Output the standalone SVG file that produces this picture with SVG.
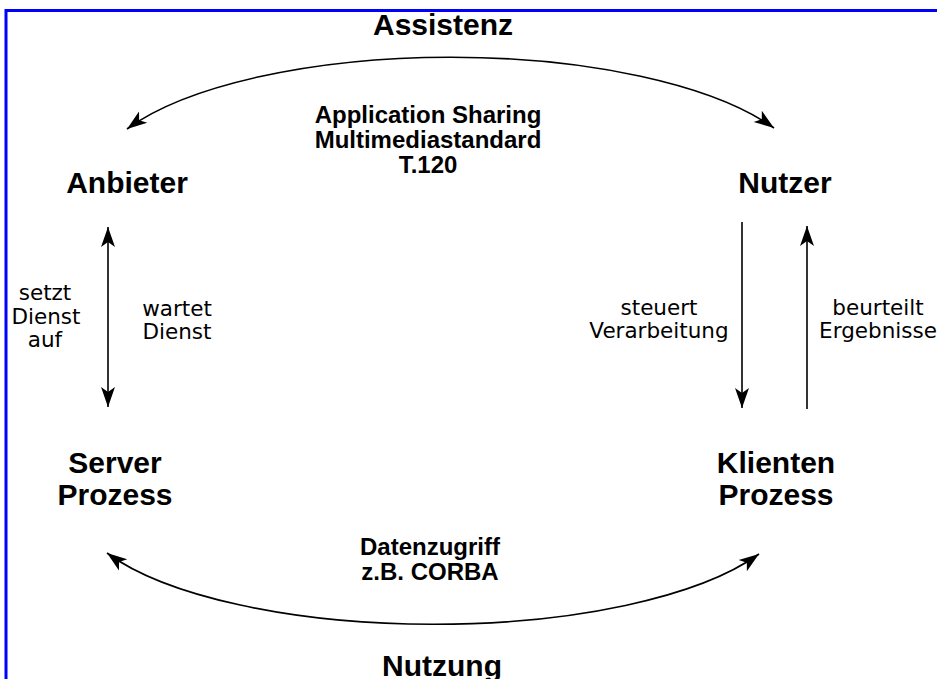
<svg xmlns="http://www.w3.org/2000/svg" width="937" height="679" viewBox="0 0 937 679">
  <style>
    text { font-family: "Liberation Sans", Arial, sans-serif; fill: #000; text-anchor: middle; }
    .node { font-size: 30px; font-weight: bold; }
    .mid { font-size: 24px; font-weight: bold; }
    .small { font-family: "DejaVu Sans", "Liberation Sans", sans-serif; font-size: 21.5px; font-weight: normal; }
    .conn { fill: none; stroke: #000; stroke-width: 1.6; }
    .frame { fill: none; stroke: #0000ff; stroke-width: 3; }
  </style>
  <defs>
    <marker id="ah" markerUnits="userSpaceOnUse" viewBox="0 0 24 18" markerWidth="24" markerHeight="18" refX="20" refY="9" orient="auto-start-reverse">
      <path d="M20,9 L0,2 L5,9 L0,16 Z" fill="#000"/>
    </marker>
  </defs>
  <rect width="937" height="679" fill="#fff"/>
  <path class="frame" d="M6,679 V10.5 H937"/>

  <g id="connectors">
    <path id="assistenz" class="conn" d="M127,129 A360,127 0 0 1 774,128" marker-start="url(#ah)" marker-end="url(#ah)"/>
    <path id="nutzung" class="conn" d="M107,553 A360,123 0 0 0 759,554" marker-start="url(#ah)" marker-end="url(#ah)"/>
    <line id="anbieter-server" class="conn" x1="108" y1="227" x2="108" y2="407" marker-start="url(#ah)" marker-end="url(#ah)"/>
    <line id="nutzer-klient" class="conn" x1="742" y1="222" x2="742" y2="408" marker-end="url(#ah)"/>
    <line id="klient-nutzer" class="conn" x1="807" y1="409" x2="807" y2="226" marker-end="url(#ah)"/>
  </g>

  <g id="labels">
    <text class="node" x="443" y="35">Assistenz</text>
    <text class="mid" x="428" y="123">Application Sharing</text>
    <text class="mid" x="428" y="148">Multimediastandard</text>
    <text class="mid" x="428" y="173">T.120</text>
    <text class="small" x="45" y="300">setzt</text>
    <text class="small" x="46" y="324">Dienst</text>
    <text class="small" x="45" y="347">auf</text>
    <text class="small" x="177" y="316">wartet</text>
    <text class="small" x="177" y="339">Dienst</text>
    <text class="small" x="659" y="315">steuert</text>
    <text class="small" x="659" y="338">Verarbeitung</text>
    <text class="small" x="878" y="315">beurteilt</text>
    <text class="small" x="878" y="338">Ergebnisse</text>
    <text class="mid" x="430" y="555">Datenzugriff</text>
    <text class="mid" x="430" y="580">z.B. CORBA</text>
    <text class="node" x="442" y="676">Nutzung</text>
  </g>

  <g id="anbieter"><text class="node" x="127" y="193">Anbieter</text></g>
  <g id="nutzer"><text class="node" x="785" y="193">Nutzer</text></g>
  <g id="server"><text class="node" x="115" y="473">Server</text><text class="node" x="115" y="505">Prozess</text></g>
  <g id="klient"><text class="node" x="776" y="473">Klienten</text><text class="node" x="776" y="505">Prozess</text></g>
</svg>
